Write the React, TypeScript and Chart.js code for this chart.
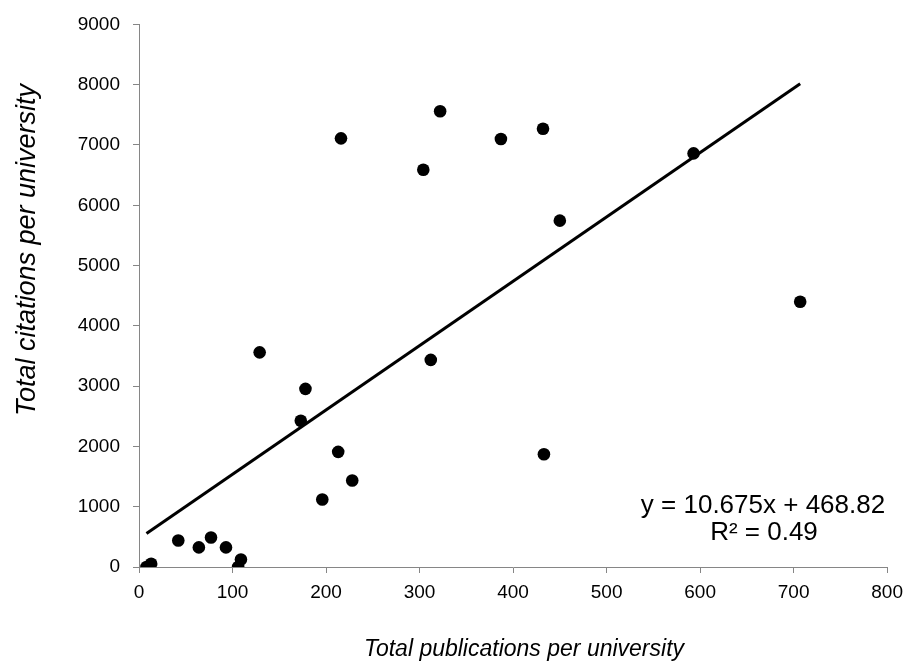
import React, { useEffect, useRef } from "react";
import { Chart, registerables } from "chart.js";

Chart.register(...registerables);

// Data
const publications = [8, 13, 42, 64, 77, 93, 106, 109, 129, 173, 178, 196, 213, 216, 228, 304, 312, 322, 387, 432, 433, 450, 593, 707];
const citations = [0, 55, 440, 325, 490, 325, 0, 125, 3560, 2425, 2955, 1120, 1910, 7110, 1435, 6590, 3435, 7560, 7100, 7270, 1870, 5745, 6860, 4400];

const trendSlope = 10.675;
const trendIntercept = 468.82;
const equationLines = ["y = 10.675x + 468.82", "R\u00b2 = 0.49"];

const xAxisMin = 0;
const xAxisMax = 800;
const xAxisStep = 100;
const yAxisMin = 0;
const yAxisMax = 9000;
const yAxisStep = 1000;

const xTitle = "Total publications per university";
const yTitle = "Total citations per university";

const FONT = '"Liberation Sans", Arial, Helvetica, sans-serif';
const AXIS_GREY = "#868686";

export default function App() {
  const canvasRef = useRef<HTMLCanvasElement | null>(null);

  useEffect(() => {
    document.body.style.margin = "0";
    const canvas = canvasRef.current;
    if (!canvas) return;

    const points = publications.map((x, i) => ({ x, y: citations[i] }));
    const xMin = Math.min(...publications);
    const xMax = Math.max(...publications);
    const trend = [
      { x: xMin, y: trendSlope * xMin + trendIntercept },
      { x: xMax, y: trendSlope * xMax + trendIntercept },
    ];

    const textPlugin = {
      id: "textPlugin",
      afterDraw(chart: any) {
        const ctx = chart.ctx as CanvasRenderingContext2D;
        ctx.save();
        ctx.fillStyle = "#000";
        ctx.textAlign = "center";
        ctx.textBaseline = "middle";
        // equation
        ctx.font = `26px ${FONT}`;
        ctx.fillText(equationLines[0], 763, 506);
        ctx.fillText(equationLines[1], 764, 533);
        // x title
        ctx.font = `italic 23px ${FONT}`;
        ctx.fillText(xTitle, 524, 650);
        // y title
        ctx.translate(27, 250);
        ctx.rotate(-Math.PI / 2);
        ctx.font = `italic 27px ${FONT}`;
        ctx.fillText(yTitle, 0, 0);
        ctx.restore();
      },
    };

    const tickFmt = (v: any) => String(v);

    const chart = new Chart(canvas, {
      type: "scatter",
      data: {
        datasets: [
          {
            type: "line",
            label: "Trend",
            data: trend,
            borderColor: "#000",
            borderWidth: 3,
            pointRadius: 0,
            fill: false,
            order: 2,
          } as any,
          {
            label: "Universities",
            data: points,
            backgroundColor: "#000",
            borderColor: "#000",
            borderWidth: 0,
            pointRadius: 6.3,
            order: 1,
          },
        ],
      },
      options: {
        animation: false,
        responsive: false,
        maintainAspectRatio: false,
        layout: { padding: { top: 18, right: 20, left: 0, bottom: 0 } },
        plugins: {
          legend: { display: false },
          tooltip: { enabled: false },
        },
        scales: {
          x: {
            type: "linear",
            min: xAxisMin,
            max: xAxisMax,
            ticks: {
              stepSize: xAxisStep,
              color: "#000",
              font: { family: FONT, size: 19 },
              padding: 8,
              callback: tickFmt,
            },
            grid: {
              display: true,
              drawOnChartArea: false,
              drawTicks: true,
              tickLength: 6,
              color: AXIS_GREY,
            },
            border: { display: true, color: AXIS_GREY, width: 1 },
            afterFit(scale: any) {
              scale.height = 99;
            },
          },
          y: {
            type: "linear",
            min: yAxisMin,
            max: yAxisMax,
            ticks: {
              stepSize: yAxisStep,
              color: "#000",
              font: { family: FONT, size: 19 },
              padding: 13,
              callback: tickFmt,
            },
            grid: {
              display: true,
              drawOnChartArea: false,
              drawTicks: true,
              tickLength: 6,
              color: AXIS_GREY,
            },
            border: { display: true, color: AXIS_GREY, width: 1 },
            afterFit(scale: any) {
              scale.width = 139;
            },
          },
        },
      },
      plugins: [textPlugin],
    });

    return () => chart.destroy();
  }, []);

  return (
    <div style={{ width: 911, height: 666, position: "relative", background: "#fff" }}>
      <canvas ref={canvasRef} width={911} height={666} style={{ width: 911, height: 666, display: "block" }} />
    </div>
  );
}
